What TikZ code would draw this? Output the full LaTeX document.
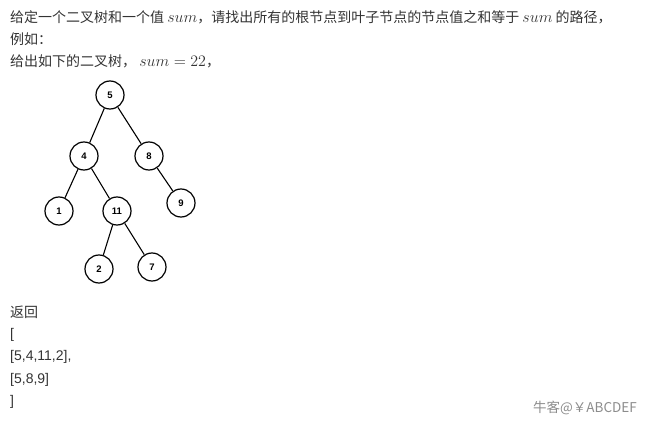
\RequirePackage{fix-cm}
\documentclass[tikz,border=0pt]{standalone}
\usepackage[no-math]{fontspec}
\setmainfont{Liberation Sans}
\newfontfamily\cjk{Noto Sans CJK SC}
\definecolor{txt}{RGB}{51,51,51}
\definecolor{mark}{RGB}{140,140,140}
\newcommand{\summath}[1]{{\fontsize{16}{18}\selectfont$#1$}}

\begin{document}
\begin{tikzpicture}[x=1pt, y=-1pt,
    tnode/.style={circle, draw, line width=1.2pt, minimum size=28pt, inner sep=0pt,
      font=\bfseries\fontsize{9.5}{9.5}\selectfont},
    txtline/.style={anchor=west, inner sep=0pt, text=txt, font=\cjk\fontsize{14}{16}\selectfont}]
    \useasboundingbox (0,0) rectangle (651,425);

    % question text
    \node[txtline] (q1) at (10,17) {给定一个二叉树和一个值 \summath{sum}，请找出所有的根节点到叶子节点的节点值之和等于 \summath{sum} 的路径，};
    \node[txtline] (q2) at (10,39) {例如：};
    \node[txtline] (q3) at (10,61) {给出如下的二叉树， \summath{sum=22}，};

    % the tree
    \begin{scope}
      \node[tnode] (n5) at (110,95) {5};
      \node[tnode] (n4) at (84,156) {4};
      \node[tnode] (n8) at (149,156) {8};
      \node[tnode] (n1) at (59,211) {1};
      \node[tnode] (n11) at (117,211) {11};
      \node[tnode] (n9) at (181,203) {9};
      \node[tnode] (n2) at (99,269) {2};
      \node[tnode] (n7) at (152,267) {7};
      \draw[line width=1.1pt] (n4)--(n5)--(n8)--(n9);
      \draw[line width=1.1pt] (n1)--(n4)--(n11)--(n2);
      \draw[line width=1.1pt] (n11)--(n7);
    \end{scope}

    % answer
    \node[txtline] (a0) at (10,312) {返回};
    \begin{scope}[every node/.style={anchor=west, inner sep=0pt, text=txt, font=\fontsize{14}{16}\selectfont}]
      \node (a1) at (10,335) {[};
      \node (a2) at (10,357) {[5,4,11,2],};
      \node (a3) at (10,380) {[5,8,9]};
      \node (a4) at (10,402) {]};
    \end{scope}

    \node[anchor=west, inner sep=0pt, text=mark, font=\cjk\fontsize{13.5}{15}\selectfont] (wm) at (533,408) {牛客@￥ABCDEF};
\end{tikzpicture}
\end{document}
